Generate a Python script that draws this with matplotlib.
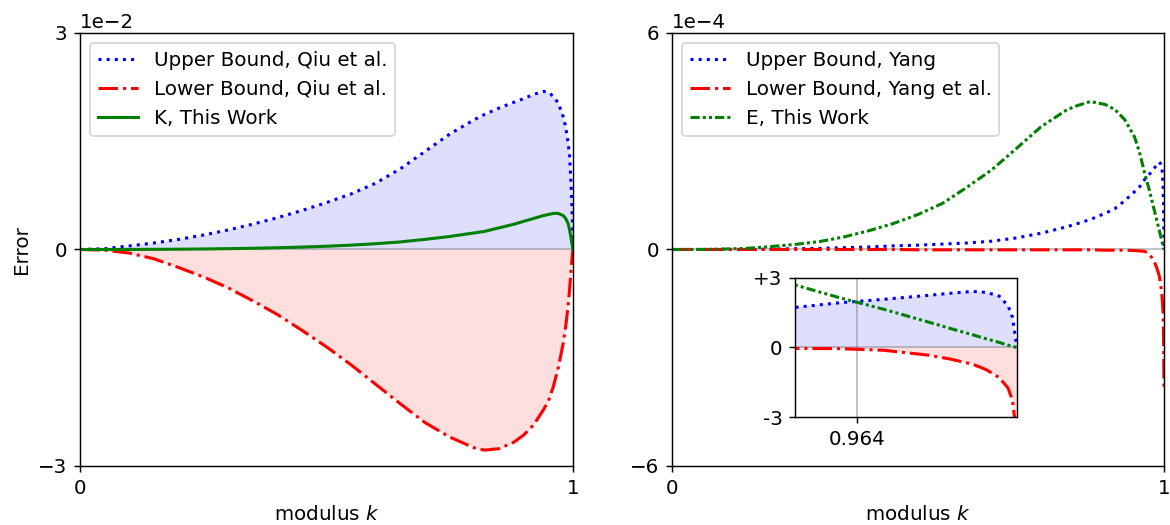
import numpy as np
import matplotlib
matplotlib.use('Agg')
import matplotlib.pyplot as plt

plt.rcParams['font.size'] = 11

# modulus values shared by all curves
k = [0, 0.05, 0.1, 0.15, 0.2, 0.25, 0.3, 0.35, 0.4, 0.45, 0.5, 0.55, 0.6, 0.65,
     0.7, 0.75, 0.8, 0.82, 0.85, 0.88, 0.9, 0.92, 0.94, 0.95, 0.96, 0.97, 0.98,
     0.985, 0.99, 0.993, 0.996, 0.998, 0.999, 1.0]

# left panel, units of 1e-2
qiu_upper = [0, .01, .05, .09, .14, .2, .27, .35, .44, .54, .65, .77, .92, 1.12,
             1.36, 1.6, 1.8, 1.87, 1.96, 2.04, 2.09, 2.15, 2.19, 2.18, 2.12, 2.03,
             1.84, 1.70, 1.48, 1.30, .9, .55, .3, 0]
qiu_lower = [0, -.01, -.05, -.13, -.25, -.38, -.53, -.71, -.9, -1.12, -1.35, -1.6,
             -1.87, -2.14, -2.4, -2.6, -2.75, -2.78, -2.76, -2.67, -2.57, -2.43,
             -2.22, -2.1, -1.9, -1.64, -1.3, -1.07, -.78, -.55, -.28, -.12, -.05, 0]
K_work = [0, 0, 0, .002, .004, .007, .011, .017, .024, .033, .045, .06, .08, .105,
          .14, .18, .23, .25, .30, .35, .39, .43, .47, .485, .5, .5, .47, .43, .36,
          .27, .15, .07, .035, 0]

# right panel, units of 1e-4
yang_upper = [0, 0, 0, 0, .01, .02, .03, .05, .07, .1, .12, .15, .18, .23, .32,
              .45, .62, .7, .83, 1.0, 1.13, 1.35, 1.6, 1.73, 1.93, 2.08, 2.25, 2.34,
              2.42, 2.38, 2.22, 1.8, 1.3, 0]
yang_lower = [0, 0, 0, 0, 0, 0, 0, 0, 0, 0, -.01, -.01, -.01, -.01, -.01, -.01,
              -.01, -.01, -.01, -.02, -.02, -.02, -.03, -.04, -.05, -.12, -.33, -.5,
              -.72, -.95, -1.3, -1.75, -2.3, -3.9]
E_work = [0, 0, .01, .03, .08, .14, .22, .35, .52, .72, .97, 1.28, 1.73, 2.21, 2.8,
          3.4, 3.85, 3.97, 4.1, 4.02, 3.88, 3.6, 3.12, 2.7, 2.15, 1.65, 1.1, .82, .55,
          .38, .22, .1, .05, 0]

k = np.array(k)
qu = np.array(qiu_upper) * 1e-2
ql = np.array(qiu_lower) * 1e-2
kw = np.array(K_work) * 1e-2
yu = np.array(yang_upper) * 1e-4
yl = np.array(yang_lower) * 1e-4
ew = np.array(E_work) * 1e-4

dashdotdot = (0, (3, 1, 1, 1, 1, 1))
lw = 1.7

fig = plt.figure(figsize=(9, 525 / 130), dpi=130)
ax1 = fig.add_axes([0.0684, 0.1124, 0.4214, 0.8248])
ax2 = fig.add_axes([0.5744, 0.1124, 0.4205, 0.8248])
axin = fig.add_axes([0.6795, 0.2057, 0.1897, 0.2648])

# left
ax1.axhline(0, color='gray', lw=1, alpha=0.5)
ax1.fill_between(k, qu, 0, color='blue', alpha=0.13, lw=0)
ax1.fill_between(k, ql, 0, color='red', alpha=0.13, lw=0)
ax1.plot(k, qu, ':', color='blue', lw=lw, label='Upper Bound, Qiu et al.')
ax1.plot(k, ql, '-.', color='red', lw=lw, label='Lower Bound, Qiu et al.')
ax1.plot(k, kw, '-', color='green', lw=lw, label='K, This Work')
ax1.set_xlim(0, 1)
ax1.set_ylim(-3e-2, 3e-2)
ax1.set_xticks([0, 1])
ax1.set_yticks([-3e-2, 0, 3e-2])
ax1.ticklabel_format(axis='y', style='sci', scilimits=(0, 0))
ax1.set_xlabel('modulus $k$')
ax1.set_ylabel('Error')
ax1.legend(loc='upper left')

# right
ax2.axhline(0, color='gray', lw=1, alpha=0.5)
ax2.plot(k, yu, ':', color='blue', lw=lw, label='Upper Bound, Yang')
ax2.plot(k, yl, '-.', color='red', lw=lw, label='Lower Bound, Yang et al.')
ax2.plot(k, ew, linestyle=dashdotdot, color='green', lw=lw, label='E, This Work')
ax2.set_xlim(0, 1)
ax2.set_ylim(-6e-4, 6e-4)
ax2.set_xticks([0, 1])
ax2.set_yticks([-6e-4, 0, 6e-4])
ax2.ticklabel_format(axis='y', style='sci', scilimits=(0, 0))
ax2.set_xlabel('modulus $k$')
ax2.legend(loc='upper left')

# inset zoom near k = 1
axin.axhline(0, color='gray', lw=1, alpha=0.5)
axin.axvline(0.964, color='gray', lw=1, alpha=0.5)
axin.fill_between(k, yu, 0, color='blue', alpha=0.13, lw=0)
axin.fill_between(k, yl, 0, color='red', alpha=0.13, lw=0)
axin.plot(k, yu, ':', color='blue', lw=lw)
axin.plot(k, yl, '-.', color='red', lw=lw)
axin.plot(k, ew, linestyle=dashdotdot, color='green', lw=lw)
axin.set_xlim(0.95, 1.0)
axin.set_ylim(-3e-4, 3e-4)
axin.set_xticks([0.964])
axin.set_xticklabels(['0.964'])
axin.set_yticks([-3e-4, 0, 3e-4])
axin.set_yticklabels(['-3', '0', '+3'])

plt.savefig('out.png', dpi=130)
